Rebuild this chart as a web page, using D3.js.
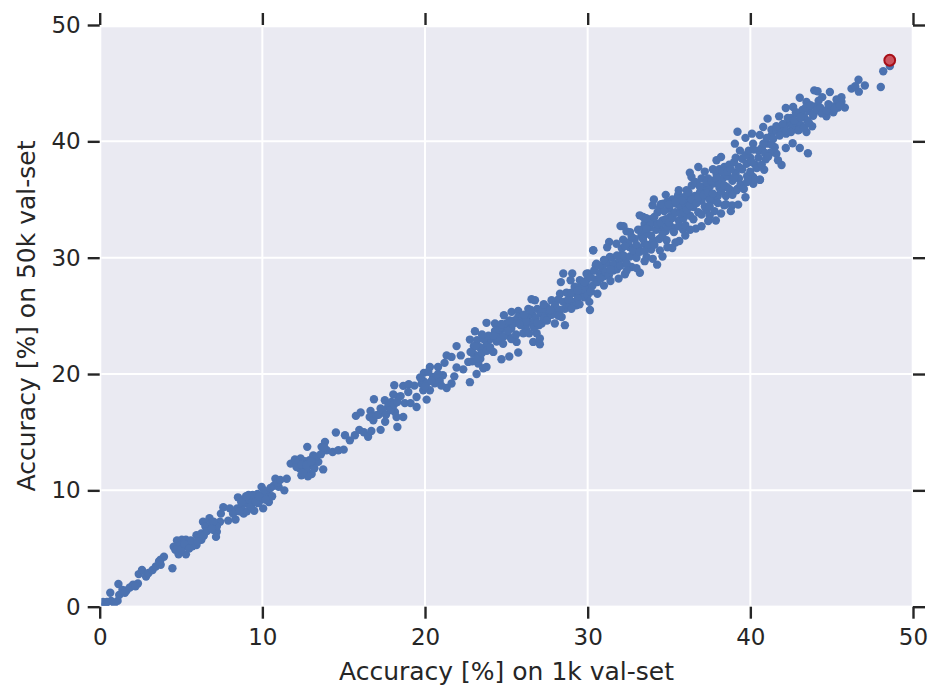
<!DOCTYPE html>
<html>
<head>
<meta charset="utf-8">
<script src="https://cdn.jsdelivr.net/npm/d3@7"></script>
<style>
  html, body { margin: 0; padding: 0; background: #fff; }
  text { font-family: "DejaVu Sans", sans-serif; fill: #262626; }
</style>
</head>
<body>
<svg id="chart" width="943" height="700"></svg>
<script>
// Each pair: [accuracy on the 1k val-set, accuracy on the 50k val-set], in percent.
const rangeLow = [
  [0.2,0.4],[0.45,0.4],[0.7,0.5],[1.1,0.5],[0.65,1.2],[1.2,1.0],[1.15,1.95],[1.4,1.45],[1.65,1.4],[1.85,1.65],
  [2.05,1.9],[2.35,2.0],[2.4,2.8],[2.6,3.15],[2.85,2.6],[3.0,2.9],[3.25,3.15],[3.45,3.45],[3.75,3.6],[3.75,4.05],
  [3.95,4.3],[4.47,3.3],[4.55,5.15],[4.75,5.7],[5.05,5.75],[5.3,5.75],[4.85,4.5],[5.3,4.5],[5.15,5.15],[5.45,5.45],
  [5.95,5.3],[6.25,5.75],[5.95,6.15],[6.25,6.3],[6.35,7.3],[6.75,7.6],[7.1,7.15],[7.4,7.3],[7.0,6.6],[7.2,6.45],
  [7.15,6.0],[6.7,6.9],[7.45,8.0],[7.6,8.55],[7.9,7.4],[8.35,7.5],[8.0,8.45],[8.45,8.45],[8.5,9.4],[8.85,8.0],
  [9.05,8.2],[9.15,9.6],[9.05,8.9],[9.5,8.25],[9.65,9.3],[9.95,10.3],[10.05,8.45],[10.3,9.75],[10.4,9.0],[10.6,9.5],
  [10.8,11.0],[10.7,10.4],[11.0,10.3],[11.35,10.0],[11.5,11.0],[0.35,0.2],[0.9,0.3],[1.55,1.2],[2.2,1.75],[3.65,3.9],
  [4.95,5.3],[4.65,4.9],[5.0,4.9],[5.7,5.2],[5.6,5.7],[6.1,5.9],[6.5,6.9],[6.85,7.2],[7.2,6.9],[7.0,7.3],
  [8.7,8.6],[8.9,9.2],[9.2,9.2],[9.4,9.0],[9.4,9.6],[9.7,9.7],[9.9,9.2],[10.1,9.5],[10.1,10.0],[8.7,9.0],
  [9.0,9.5],[9.75,8.9],[10.95,10.7],[11.1,10.9]
];

const rangeMid = [
  [11.74,12.3],[12.0,12.65],[12.35,12.75],[12.76,13.74],[12.5,12.0],[12.92,12.16],[12.4,11.3],[13.03,11.4],[13.74,11.8],[13.44,12.45],
  [13.13,13.0],[13.64,13.74],[13.85,14.17],[13.95,13.45],[14.32,13.3],[14.67,13.45],[15.0,13.5],[14.52,14.97],[15.08,14.74],[15.38,14.3],
  [15.69,14.74],[15.96,15.2],[16.24,15.0],[16.5,14.6],[16.7,15.1],[17.27,15.2],[17.55,15.9],[18.3,15.45],[15.75,16.4],[16.04,16.7],
  [16.65,16.83],[16.6,16.3],[16.82,16.03],[17.0,16.46],[16.86,17.83],[17.27,17.03],[17.53,17.75],[17.74,17.23],[18.05,18.25],[18.11,19.04],
  [18.15,16.74],[18.25,16.3],[18.66,16.3],[17.94,17.6],[18.35,18.03],[18.66,18.98],[19.0,19.12],[18.97,18.46],[18.76,17.5],[19.11,17.5],
  [19.48,17.17],[19.48,18.03],[19.79,19.18],[19.93,20.1],[19.89,18.6],[20.3,18.6],[20.1,17.8],[20.3,20.6],[20.8,20.6],[20.5,19.75],
  [21.1,19.9],[21.33,18.8],[21.63,19.18],[21.8,19.8],[21.2,20.96],[21.33,21.6],[21.94,22.4],[21.63,21.47],[22.2,21.6],[21.94,20.56],
  [22.35,20.4],[22.76,19.3],[23.17,20.0],[22.76,22.96],[23.07,23.68],[22.96,21.76],[22.66,21.04],[23.27,20.9],[23.78,20.6],[23.58,20.5],
  [12.2,12.4],[12.6,12.5],[12.3,11.9],[12.7,11.8],[12.9,12.6],[12.1,12.0],[12.8,11.2],[13.1,12.1],[13.3,12.9],[13.6,13.1],
  [13.8,13.7],[17.15,16.5],[17.4,16.9],[17.6,16.5],[17.9,16.9],[18.1,17.4],[18.3,17.6],[18.5,18.1],[19.35,19.0],[19.9,19.4],
  [20.1,19.2],[20.6,19.2],[20.9,19.4],[21.0,19.0],[20.8,20.0],[23.2,22.9],[23.0,22.4],[23.3,21.6],[23.6,22.1],[23.4,21.3]
];

const rangeUpper = [
  [23.37,22.3],[23.78,22.5],[23.78,24.4],[24.3,24.34],[24.85,25.05],[24.1,23.2],[24.6,23.5],[25.0,24.34],[25.1,23.3],[24.7,21.27],
  [25.18,21.5],[25.73,21.85],[24.2,21.9],[24.8,22.6],[25.63,22.76],[25.32,25.34],[25.73,25.43],[25.73,24.9],[26.24,24.34],[26.55,26.43],
  [26.76,26.34],[26.35,25.6],[26.65,22.76],[27.06,22.56],[27.06,23.05],[27.17,24.34],[26.86,23.5],[26.04,23.5],[27.47,25.77],[27.78,26.34],
  [27.98,24.34],[28.6,24.2],[28.4,24.9],[28.5,28.64],[28.35,27.9],[29.05,28.64],[28.95,28.06],[30.14,25.5],[30.34,30.64],[30.03,28.64],
  [30.5,29.35],[29.52,28.06],[28.3,26.9],[28.9,26.8],[29.3,26.9],[24.0,23.0],[24.4,22.8],[24.9,23.9],[25.3,23.9],[25.5,24.6],
  [26.0,24.9],[26.3,24.9],[26.6,25.1],[26.8,24.8],[26.9,25.6],[27.1,25.2],[27.4,25.3],[27.6,25.0],[27.9,25.6],[28.1,25.3],
  [28.2,26.4],[28.6,25.6],[28.9,25.9],[29.1,26.2],[29.3,25.9],[29.6,27.0],[29.8,26.6],[30.0,27.4],[30.3,27.6],[30.5,28.1],
  [29.6,27.6],[29.9,28.0],[29.2,27.5],[24.6,24.0],[25.4,24.3],[26.2,23.9],[26.5,24.4],[23.9,23.3],[24.3,23.7],[27.3,24.8],
  [30.34,30.63],[31.32,31.35],[31.77,31.2],[32.18,31.55],[32.02,32.72],[32.2,32.7],[32.39,32.26],[33.2,33.64],[33.99,34.5],[34.07,35.0],
  [34.8,35.4],[35.56,35.36],[36.28,37.3],[36.38,36.93],[36.8,37.8],[37.2,37.4],[37.92,38.37],[38.2,38.65],[35.63,31.43],[35.87,32.4],
  [35.2,30.83],[34.27,29.4],[33.21,28.71],[32.29,28.57],[36.65,32.5],[37.41,33.15],[37.88,33.2],[38.39,34.5],[38.88,34.5],[39.25,34.56],
  [39.7,35.2],[40.18,36.36],[40.59,36.7],[33.41,33.5],[33.62,32.06],[34.44,32.6],[35.05,33.5],[36.49,34.36],[37.3,34.07],[37.72,34.93],
  [34.03,31.5],[33.1,30.9],[32.6,30.9],[32.08,30.2],[31.36,30.06],[30.54,29.48],[29.93,28.62],[30.75,28.62],[31.57,28.9],[32.7,29.2],
  [33.62,30.06],[34.44,30.63],[34.85,31.5],[36.08,35.8],[35.46,34.64],[34.64,34.64],[37.1,36.07],[37.92,37.22],[38.54,36.07],[39.15,35.8],
  [33.5,32.9],[33.9,33.3],[34.3,33.9],[34.6,33.2],[35.0,34.2],[35.3,33.8],[35.7,34.4],[36.0,34.6],[36.2,35.1],[36.6,35.3],
  [36.9,35.6],[37.3,35.3],[37.5,36.1],[37.8,36.4],[38.1,36.0],[38.3,36.8],[38.6,37.0],[38.9,36.6],[39.1,37.3],[39.3,36.8],
  [36.4,36.2],[36.7,36.4],[37.0,36.8],[37.4,36.8],[37.7,37.6],[38.1,37.6],[38.4,37.8],[38.7,38.0],[39.0,38.2],[35.2,35.0],
  [35.6,35.8],[35.9,35.2],[34.9,34.8],[33.8,32.6],[33.3,31.9],[32.9,31.6],[32.5,31.3],[32.9,30.4],[32.3,29.9],[31.9,29.6],
  [31.2,29.5],[30.9,29.2],[31.0,28.4],[30.4,28.9],[31.5,30.0],[32.1,30.8],[33.5,31.2],[33.9,30.7],[34.4,31.6],[34.8,32.3],
  [35.2,32.6],[35.6,33.2],[35.9,33.4],[36.3,33.6],[36.8,33.9],[37.0,34.9],[37.5,35.0],[38.0,35.3],[38.5,35.3]
];

const rangeTop = [
  [39.05,39.8],[39.21,40.83],[39.7,40.3],[40.1,40.66],[40.58,40.54],[40.79,41.23],[41.06,41.95],[41.3,40.5],[41.77,42.15],[42.18,42.87],
  [42.63,42.95],[43.04,43.75],[43.45,43.38],[43.93,44.38],[44.13,44.3],[44.42,43.8],[44.89,44.24],[45.6,43.8],[45.81,42.9],[44.68,42.15],
  [44.58,42.5],[45.1,42.5],[45.3,43.1],[46.22,44.53],[46.45,44.73],[46.65,45.3],[46.67,44.27],[47.04,44.8],[48.02,44.67],[48.17,46.02],
  [48.58,46.48],[43.54,38.97],[43.04,39.43],[42.6,39.83],[42.18,39.43],[41.92,37.97],[41.7,38.37],[40.95,38.45],[40.85,37.56],[40.59,36.7],
  [43.8,41.3],[43.45,40.8],[43.86,42.2],[42.94,40.95],[42.2,40.66],[41.6,38.94],[41.0,39.8],[40.17,39.8],[39.36,39.2],[39.77,38.08],
  [40.17,36.93],[39.5,37.6],[39.8,37.0],[40.0,38.6],[40.3,38.0],[40.5,39.2],[40.7,39.4],[41.2,39.0],[41.5,39.5],[41.3,41.0],
  [41.6,40.9],[41.9,41.1],[42.1,41.0],[42.4,41.5],[42.6,41.2],[42.8,41.6],[43.1,41.4],[43.3,42.1],[43.5,41.8],[42.5,42.0],
  [42.9,42.4],[43.2,42.7],[43.6,42.6],[44.0,43.0],[44.2,43.5],[45.0,43.0],[45.4,42.9],[45.6,43.4],[44.9,42.7]
];

// Models packed into the thick middle of the band.
const rangeDense = [
  [5.2,5.4],[5.5,5.0],[6.0,5.6],[6.4,6.1],[6.6,6.5],[6.9,6.7],[8.2,8.0],[8.6,8.2],[9.3,8.6],[9.6,9.0],
  [9.8,9.5],[10.2,9.2],[10.5,10.2],[12.4,12.2],[12.7,12.2],[12.5,11.5],[13.2,11.9],[13.0,12.5],
  [19.7,19.7],[20.0,18.9],[20.4,19.4],[20.2,20.2],[22.9,21.1],[23.2,21.3],[23.5,21.8],[23.8,22.0],[24.0,22.3],[23.6,23.0],
  [24.5,23.1],[24.8,23.2],[25.1,23.7],[25.3,23.0],[25.6,23.4],[25.9,24.2],[26.2,24.5],[26.4,23.5],[26.7,24.0],[27.0,24.2],
  [27.2,25.6],[27.5,24.6],[27.8,25.1],[28.0,25.9],[28.3,25.5],[28.5,26.2],[28.8,26.4],[29.0,25.6],[29.4,26.5],[29.5,26.0],
  [29.7,27.3],[30.0,26.8],[30.2,27.1],[30.6,27.9],[30.8,28.2],[31.1,28.8],[31.3,28.5],[31.6,29.4],[31.8,29.0],[32.0,29.3],
  [32.2,30.2],[32.4,29.5],[32.6,30.1],[32.8,30.6],[33.0,31.1],[33.0,30.0],[33.2,30.5],[33.3,32.4],[33.4,31.6],[33.5,30.6],
  [33.6,32.5],[33.7,31.1],[33.8,33.1],[33.9,31.9],[34.0,33.0],[34.1,31.1],[34.2,32.4],[34.3,32.9],[34.4,34.2],[34.5,33.0],
  [34.6,32.0],[34.7,34.0],[34.8,33.3],[34.9,32.7],[35.0,33.0],[35.1,34.6],[35.2,33.4],[35.3,32.2],[35.4,33.9],[35.5,35.0],
  [35.6,32.7],[35.7,33.8],[35.8,34.9],[35.9,33.9],[36.0,32.8],[36.1,34.1],[36.2,35.6],[36.3,34.5],[36.4,35.0],[36.5,33.3],
  [36.6,36.5],[36.7,34.7],[36.8,35.2],[36.9,36.1],[37.0,33.7],[37.1,35.4],[37.2,34.4],[37.3,36.5],[37.4,35.6],[37.5,34.4],
  [37.6,36.6],[37.7,35.5],[37.8,34.0],[37.9,36.8],[38.0,34.7],[38.1,36.3],[38.2,35.7],[38.3,37.4],[38.4,36.2],[38.5,34.6],
  [38.6,37.4],[38.7,35.9],[38.8,37.6],[38.9,35.4],[39.0,36.9],[39.1,38.6],[39.2,35.9],[39.3,37.8],[39.4,36.3],[39.5,38.5],
  [39.6,35.9],[39.7,38.8],[39.8,36.5],[39.9,39.2],[40.0,37.4],[40.1,38.2],[40.2,39.3],[40.3,36.7],[40.4,37.7],[40.5,38.6],
  [40.7,38.0],[40.8,39.8],[40.9,39.0],[41.0,40.3],[41.1,38.7],[41.3,39.7],[41.4,40.2],[41.6,41.3],[41.8,40.5],[42.0,41.5],
  [42.2,40.9],[42.3,42.0],[42.5,40.8],[42.7,41.8],[42.8,42.5],[43.0,41.0],[43.1,42.1],[43.3,41.2],[43.4,42.9],[43.6,41.6],
  [43.7,43.1],[43.9,42.4],[44.1,42.7],[44.3,42.9],[44.4,42.4],[44.7,42.7],[44.8,43.2],[45.2,42.8],[45.3,43.6],[45.5,43.1],
  [22.8,21.9],[23.1,22.4],[23.5,23.4],[24.2,23.3],[24.7,24.3],[25.2,24.6],[25.8,24.3],[26.1,25.1],[26.5,25.5],[26.9,24.4],
  [27.3,26.0],[27.7,25.5],[28.2,25.0],[28.7,27.0],[29.0,27.0],[29.4,27.2],[29.8,27.9],[30.2,28.3],[30.7,29.3],[31.0,29.8],
  [31.4,29.0],[31.8,30.2],[32.3,31.0],[32.7,31.8],[33.1,32.4],[33.6,33.4],[34.1,33.5],[34.5,34.6],[35.0,34.6],[35.4,34.8],
  [30.1,26.2],[30.6,26.9],[31.0,27.6],[31.4,28.0],[31.9,28.2],[32.4,28.9],[33.0,29.1],[33.5,29.7],[34.0,29.9],[34.6,30.1],
  [34.9,30.9],[35.4,31.3],[36.0,31.9],[36.3,32.4],[37.0,32.7],[37.5,33.6],[38.2,33.8],[38.8,34.0],[31.2,30.9],[32.6,32.2]
];

const bestModel = [48.57, 46.97];
const tickValues = [0, 10, 20, 30, 40, 50];
const xLabel = "Accuracy [%] on 1k val-set";
const yLabel = "Accuracy [%] on 50k val-set";

const svg = d3.select("#chart");
const x = d3.scaleLinear().domain([0, 50]).range([99.7, 913]);
const y = d3.scaleLinear().domain([0, 50]).range([606.7, 25]);
const points = [...rangeLow, ...rangeMid, ...rangeUpper, ...rangeTop, ...rangeDense];

// Panel inset by the white spine on each edge.
const panel = { left: 101.3, right: 911.7, top: 27.3, bottom: 605.8 };
svg.append("rect")
  .attr("x", panel.left).attr("y", panel.top)
  .attr("width", panel.right - panel.left).attr("height", panel.bottom - panel.top)
  .attr("fill", "#EAEAF2");

svg.append("clipPath").attr("id", "panel-clip").append("rect")
  .attr("x", panel.left).attr("y", panel.top)
  .attr("width", panel.right - panel.left).attr("height", panel.bottom - panel.top);

// White grid lines.
const grid = svg.append("g").attr("stroke", "#fff").attr("stroke-width", 2);
grid.selectAll("line.gx").data(tickValues).join("line").attr("class", "gx")
  .attr("x1", d => x(d)).attr("x2", d => x(d)).attr("y1", panel.top).attr("y2", panel.bottom);
grid.selectAll("line.gy").data(tickValues).join("line").attr("class", "gy")
  .attr("x1", panel.left).attr("x2", panel.right).attr("y1", d => y(d)).attr("y2", d => y(d));

// Scatter of all models, with the best one ringed in red.
const marks = svg.append("g").attr("clip-path", "url(#panel-clip)");
marks.selectAll("circle.model").data(points).join("circle").attr("class", "model")
  .attr("cx", d => x(d[0])).attr("cy", d => y(d[1])).attr("r", 4.2).attr("fill", "#4C72B0");
marks.append("circle")
  .attr("cx", x(bestModel[0])).attr("cy", y(bestModel[1])).attr("r", 5.4)
  .attr("fill", "#CC5560").attr("stroke", "#A80F18").attr("stroke-width", 2);

// Outward ticks on all four sides; labels only on the left and bottom.
function styleAxis(g, hideLabels) {
  g.select(".domain").remove();
  g.selectAll(".tick line").attr("stroke", "#262626").attr("stroke-width", 2.4);
  g.selectAll(".tick text").attr("font-size", 23)
    .attr("font-family", '"DejaVu Sans", sans-serif').attr("fill", "#262626");
  if (hideLabels) g.selectAll(".tick text").remove();
}
const fmt = d3.format("d");
svg.append("g").attr("transform", "translate(0,606.7)")
  .call(d3.axisBottom(x).tickValues(tickValues).tickSize(12).tickPadding(10).tickFormat(fmt))
  .call(styleAxis, false);
svg.append("g").attr("transform", "translate(0,25)")
  .call(d3.axisTop(x).tickValues(tickValues).tickSize(12))
  .call(styleAxis, true);
svg.append("g").attr("transform", "translate(99.7,0)")
  .call(d3.axisLeft(y).tickValues(tickValues).tickSize(12).tickPadding(7).tickFormat(fmt))
  .call(styleAxis, false);
svg.append("g").attr("transform", "translate(913,0)")
  .call(d3.axisRight(y).tickValues(tickValues).tickSize(12))
  .call(styleAxis, true);

svg.append("text").attr("x", 506.5).attr("y", 680).attr("text-anchor", "middle")
  .attr("font-size", 25).text(xLabel);
svg.append("text").attr("transform", "translate(35,316) rotate(-90)").attr("text-anchor", "middle")
  .attr("font-size", 25).text(yLabel);
</script>
</body>
</html>
